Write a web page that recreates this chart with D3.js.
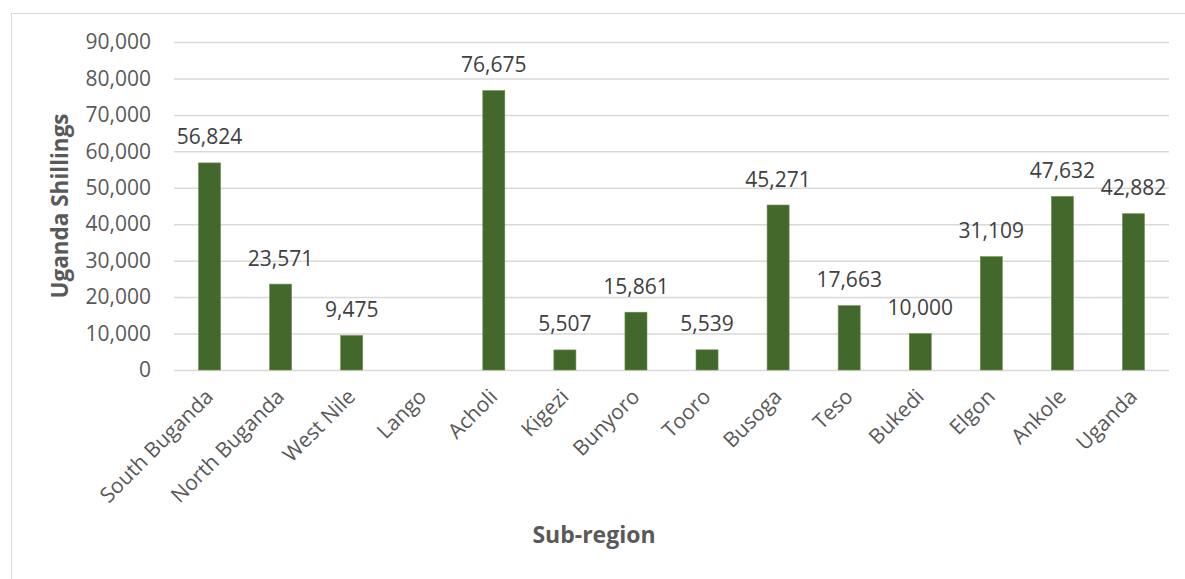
<!DOCTYPE html>
<html><head><meta charset="utf-8">
<script src="https://cdn.jsdelivr.net/npm/d3@7"></script>
<style>body{margin:0;background:#fff;} text{font-family:"Open Sans",sans-serif;}</style>
</head><body>
<svg id="chart" width="1185" height="579"></svg>
<script>
const categories = ["South Buganda","North Buganda","West Nile","Lango","Acholi","Kigezi","Bunyoro","Tooro","Busoga","Teso","Bukedi","Elgon","Ankole","Uganda"];
const values = [56824,23571,9475,null,76675,5507,15861,5539,45271,17663,10000,31109,47632,42882];
const yTicks = [0,10000,20000,30000,40000,50000,60000,70000,80000,90000];

const svg = d3.select("#chart");
const m = {left:174, right:1169, top:42, bottom:370};
svg.append("rect").attr("x",11.5).attr("y",13.5).attr("width",1200).attr("height",600)
  .attr("fill","none").attr("stroke","#d9d9d9").attr("stroke-width",1);

const x = d3.scaleBand().domain(categories).range([m.left,m.right]).paddingInner(0.69).paddingOuter(0.345);
const y = d3.scaleLinear().domain([0,90000]).range([m.bottom,m.top]);
const fmt = d3.format(",");

const yAxis = d3.axisLeft(y).tickValues(yTicks).tickFormat(fmt).tickSize(-(m.right-m.left)).tickPadding(23);
const gy = svg.append("g").attr("transform",`translate(${m.left},0)`).call(yAxis);
gy.select(".domain").remove();
gy.selectAll(".tick line").attr("stroke","#d9d9d9").attr("stroke-width",1.5);
gy.selectAll(".tick text").attr("fill","#595959").style("font-size","21px");

const xAxis = d3.axisBottom(x).tickSize(0).tickPadding(0);
const gx = svg.append("g").attr("transform",`translate(0,${m.bottom})`).call(xAxis);
gx.select(".domain").remove();
gx.selectAll(".tick text").attr("fill","#595959").style("font-size","21px")
  .attr("text-anchor","end").attr("dy",null).attr("y",0)
  .attr("transform","translate(5,28) rotate(-45)");

const data = categories.map((c,i)=>({c,v:values[i]})).filter(d=>d.v!=null);
svg.append("g").selectAll("rect").data(data).join("rect")
  .attr("x",d=>x(d.c)).attr("width",x.bandwidth())
  .attr("y",d=>y(d.v)).attr("height",d=>y(0)-y(d.v))
  .attr("fill","#43682b").attr("stroke","#6f8f52").attr("stroke-width",0.6);

svg.append("g").selectAll("text").data(data).join("text")
  .attr("x",d=>x(d.c)+x.bandwidth()/2).attr("y",d=>y(d.v)-18.5)
  .attr("text-anchor","middle").attr("fill","#404040").style("font-size","21px")
  .text(d=>fmt(d.v));

svg.append("text").attr("transform","translate(68,206) rotate(-90)")
  .attr("text-anchor","middle").attr("fill","#595959").style("font-size","22.5px").style("font-weight","bold")
  .text("Uganda Shillings");
svg.append("text").attr("x",594).attr("y",543)
  .attr("text-anchor","middle").attr("fill","#595959").style("font-size","23px").style("font-weight","bold")
  .text("Sub-region");
</script>
</body></html>
